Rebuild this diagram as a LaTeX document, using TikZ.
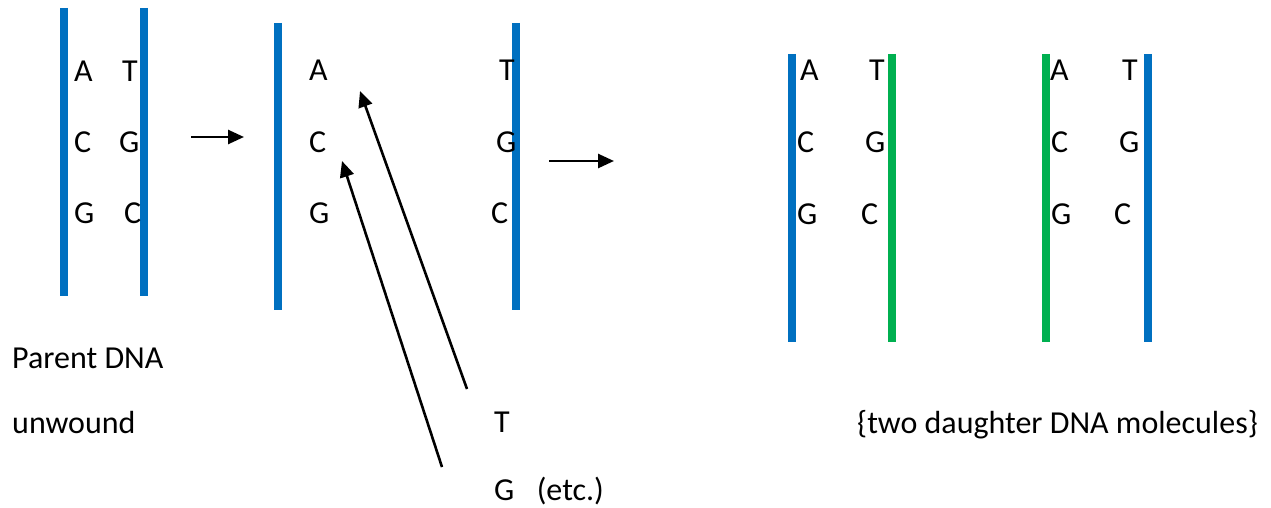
\documentclass[tikz,border=0pt]{standalone}
\usepackage{fontspec}
\setmainfont{Carlito}
\usetikzlibrary{arrows.meta}
\definecolor{strandblue}{HTML}{0070C0}
\definecolor{strandgreen}{HTML}{00B050}
\tikzset{
  base/.style={font=\fontsize{32}{38}\selectfont, inner sep=0pt, anchor=base west, text=black},
  bluestrand/.style={line width=8pt, strandblue},
  greenstrand/.style={line width=8pt, strandgreen},
  arr/.style={line width=2.6pt, -{Triangle[length=16pt,width=14pt]}}
}
\begin{document}
\begin{tikzpicture}[x=1pt,y=-1pt]
\useasboundingbox (0,0) rectangle (1271,508);
% strands
\draw[bluestrand] (64,8) -- (64,296);
\draw[bluestrand] (144,8) -- (144,296);
\draw[bluestrand] (278,23) -- (278,310);
\draw[bluestrand] (516,23) -- (516,310);
\draw[bluestrand] (792,54) -- (792,342);
\draw[greenstrand] (892,54) -- (892,342);
\draw[greenstrand] (1046,54) -- (1046,342);
\draw[bluestrand] (1148,54) -- (1148,342);
% panel 1
\node[base] (p1a) at (74,82) {A};
\node[base] (p1t) at (122,82) {T};
\node[base] (p1c) at (74,152) {C};
\node[base] (p1g) at (119,152) {G};
\node[base] (p1g2) at (74,223) {G};
\node[base] (p1c2) at (124,223) {C};
% panel 2
\node[base] (p2a) at (309,81) {A};
\node[base] (p2c) at (309,152) {C};
\node[base] (p2g) at (309,223) {G};
\node[base] (p2t) at (499,81) {T};
\node[base] (p2g2) at (496,152) {G};
\node[base] (p2c2) at (491,223) {C};
% panel 3
\node[base] (p3a) at (800,81) {A};
\node[base] (p3t) at (869,81) {T};
\node[base] (p3c) at (797,153) {C};
\node[base] (p3g) at (865,153) {G};
\node[base] (p3g2) at (797,224) {G};
\node[base] (p3c2) at (861,224) {C};
% panel 4
\node[base] (p4a) at (1050,81) {A};
\node[base] (p4t) at (1122,81) {T};
\node[base] (p4c) at (1051,153) {C};
\node[base] (p4g) at (1119,153) {G};
\node[base] (p4g2) at (1051,224) {G};
\node[base] (p4c2) at (1114,224) {C};
% labels
\node[base] (parent) at (12,368) {Parent DNA};
\node[base] (unwound) at (12,433) {unwound};
\node[base] (freeT) at (494,432) {T};
\node[base] (freeG) at (494,500) {G\hspace{0.7em}(etc.)};
\node[base] (daughter) at (857,433) {\{two daughter DNA molecules\}};
% arrow coordinates
\coordinate (a1s) at (191,137);
\coordinate (a1e) at (244,137);
\coordinate (a2s) at (549,161);
\coordinate (a2e) at (614,161);
\coordinate (tS) at (467,389);
\coordinate (tE) at (360,91);
\coordinate (gS) at (442,467);
\coordinate (gE) at (342,161);
\draw[arr] (a1s) -- (a1e);
\draw[arr] (a2s) -- (a2e);
\draw[arr] (tS) -- (tE);
\draw[arr] (gS) -- (gE);
\end{tikzpicture}
\end{document}
